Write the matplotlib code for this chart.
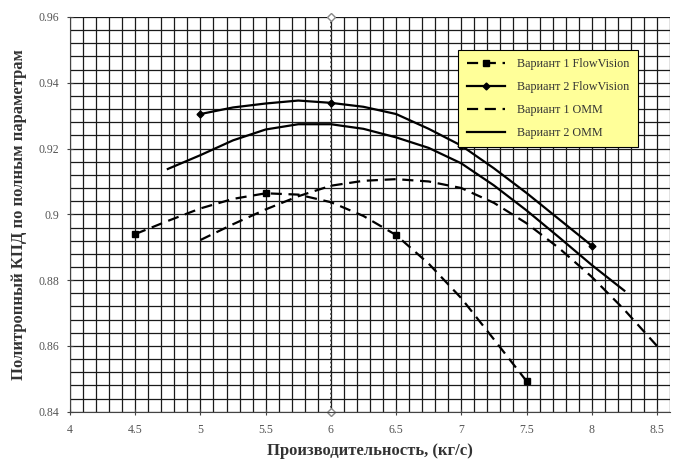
import matplotlib
matplotlib.use("Agg")
import matplotlib.pyplot as plt
from matplotlib.ticker import MultipleLocator, FuncFormatter

# ---- data ----
v1fv_x = [4.5, 4.75, 5.0, 5.25, 5.5, 5.75, 6.0, 6.25, 6.5, 6.75, 7.0, 7.25, 7.5]
v1fv_y = [0.8940, 0.8980, 0.9018, 0.9047, 0.9064, 0.9060, 0.9037, 0.8995, 0.8937,
          0.8850, 0.8745, 0.8620, 0.8493]
v1fv_markers = [0, 4, 8, 12]

v2fv_x = [5.0, 5.25, 5.5, 5.75, 6.0, 6.25, 6.5, 6.75, 7.0, 7.25, 7.5, 7.75, 8.0]
v2fv_y = [0.9305, 0.9325, 0.9337, 0.9346, 0.9339, 0.9327, 0.9305, 0.9260, 0.9209,
          0.9140, 0.9065, 0.8985, 0.8905]
v2fv_markers = [0, 4, 8, 12]

v1omm_x = [5.0, 5.25, 5.5, 5.75, 6.0, 6.25, 6.5, 6.75, 7.0, 7.25, 7.5, 7.75, 8.0, 8.25, 8.5]
v1omm_y = [0.8922, 0.8970, 0.9015, 0.9055, 0.9087, 0.9102, 0.9107, 0.9100, 0.9080,
           0.9035, 0.8973, 0.8897, 0.8810, 0.8710, 0.8600]

v2omm_x = [4.75, 5.0, 5.25, 5.5, 5.75, 6.0, 6.25, 6.5, 6.75, 7.0, 7.25, 7.5, 7.75, 8.0, 8.25]
v2omm_y = [0.9138, 0.9180, 0.9225, 0.9258, 0.9274, 0.9274, 0.9260, 0.9234, 0.9202,
           0.9155, 0.9088, 0.9012, 0.8930, 0.8846, 0.8768]

labels = ["Вариант 1 FlowVision", "Вариант 2 FlowVision", "Вариант 1 ОММ", "Вариант 2 ОММ"]
x_label = "Производительность, (кг/с)"
y_label = "Политропный КПД по полным параметрам"
center_x = 6

plt.rcParams['font.family'] = ['Liberation Serif', 'DejaVu Serif']

fig = plt.figure(figsize=(6.84, 4.63), dpi=100)
ax = fig.add_axes([70/684, 51.3/463, 600/684, 394.7/463])

ax.set_xlim(4, 8.6)
ax.set_ylim(0.84, 0.96)
ax.xaxis.set_major_locator(MultipleLocator(0.5))
ax.xaxis.set_minor_locator(MultipleLocator(0.1))
ax.yaxis.set_major_locator(MultipleLocator(0.02))
ax.yaxis.set_minor_locator(MultipleLocator(0.004))

def fmt(v, pos):
    s = ("%.2f" % v).rstrip('0').rstrip('.')
    return s
ax.xaxis.set_major_formatter(FuncFormatter(fmt))
ax.yaxis.set_major_formatter(FuncFormatter(fmt))

ax.grid(which='both', color='#1a1a1a', linewidth=0.9)
ax.set_axisbelow(True)
for s in ax.spines.values():
    s.set_visible(False)
ax.spines['left'].set_visible(True)
ax.spines['bottom'].set_visible(True)
ax.spines['left'].set_color('#444444')
ax.spines['bottom'].set_color('#444444')

ax.tick_params(axis='both', which='major', labelsize=8.5, labelcolor='#555555',
               length=4, color='#444444', direction='inout')
ax.tick_params(axis='both', which='minor', length=0)
ax.tick_params(axis='x', pad=7)
ax.tick_params(axis='y', pad=6)

# central dotted line with end markers
ax.plot([center_x, center_x], [0.84, 0.96], color='#333333', linestyle=':', linewidth=1.2,
        marker='D', markersize=4, markerfacecolor='white', markeredgecolor='#888888',
        clip_on=False, zorder=2)

lw = 1.6
ax.plot(v1fv_x, v1fv_y, color='black', linewidth=lw, linestyle=(0, (5, 3)),
        marker='s', markersize=4, markevery=v1fv_markers, label=labels[0], zorder=3)
ax.plot(v2fv_x, v2fv_y, color='black', linewidth=lw, linestyle='-',
        marker='D', markersize=3.5, markevery=v2fv_markers, label=labels[1], zorder=3)
ax.plot(v1omm_x, v1omm_y, color='black', linewidth=lw, linestyle=(0, (5, 3)),
        label=labels[2], zorder=3)
ax.plot(v2omm_x, v2omm_y, color='black', linewidth=lw, linestyle='-',
        label=labels[3], zorder=3)

leg = ax.legend(loc='upper left', bbox_to_anchor=(0.637, 0.932), fontsize=8.7,
                frameon=True, fancybox=False, edgecolor='black', facecolor='#ffff99',
                framealpha=1, handlelength=3.2, borderpad=0.7, labelspacing=0.9,
                handletextpad=1.0)
leg.get_frame().set_linewidth(0.8)
for t in leg.get_texts():
    t.set_color('#333333')

ax.set_xlabel(x_label, fontsize=12, fontweight='bold', color='#333333', labelpad=5)
ax.set_ylabel(y_label, fontsize=12, fontweight='bold', color='#333333', labelpad=8)

fig.savefig("out.png", dpi=100)
